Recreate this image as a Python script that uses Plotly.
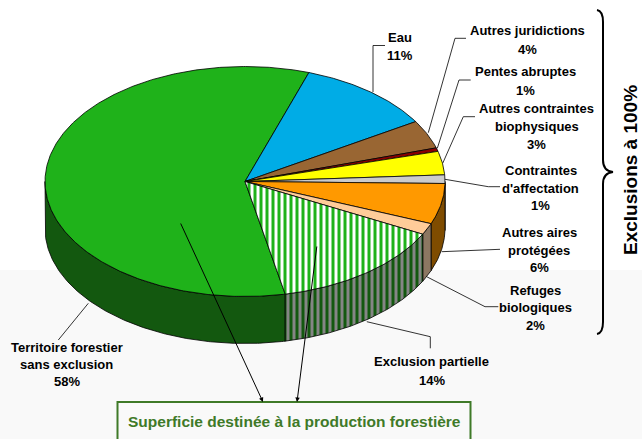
import numpy as np
import plotly.graph_objects as go

# ---------------- data ----------------
categories = [
    "Territoire forestier\nsans exclusion",
    "Eau",
    "Autres juridictions",
    "Pentes abruptes",
    "Autres contraintes\nbiophysiques",
    "Contraintes\nd'affectation",
    "Autres aires\nprotégées",
    "Refuges\nbiologiques",
    "Exclusion partielle",
]
values = [58.4, 11.1, 4.0, 0.5, 3.3, 1.2, 5.7, 1.6, 14.2]
box_text = "Superficie destinée à la production forestière"
brace_text = "Exclusions à 100%"

# ---------------- styles / layout constants ----------------
top_colors = ["#1fb21a", "#00ace6", "#996633", "#8b0000", "#ffff00", "#cccccc",
              "#ff9900", "#ffcc99", "#1fb21a"]
side_colors = ["#13580f", "#00567a", "#4d3319", "#460000", "#7f7f00", "#666666",
               "#7f4c00", "#8c7762", "#13580f"]
striped = [False] * 8 + [True]

CX, CY, RX, RY, DEPTH = 245.0, 181.5, 200.0, 115.0, 47.0
START = 168.4  # degrees clockwise from top where first slice begins
W, H = 642, 439

# label positions: x, y of first line, line spacing
label_pos = [
    (66.7, 347.3, 17.2),
    (400.0, 37.7, 17.5),
    (527.0, 30.7, 18.6),
    (525.0, 71.7, 18.3),
    (536.7, 108.3, 18.3),
    (540.7, 170.7, 17.5),
    (539.3, 232.7, 17.5),
    (535.0, 290.7, 17.2),
    (431.7, 361.7, 18.3),
]
leaders = [
    [(88.3, 303.3), (58.3, 340.0)],
    [(373.0, 92.0), (373.0, 45.5), (385.0, 45.5)],
    [(428.3, 132.7), (455.0, 38.3), (466.0, 38.3)],
    [(437.3, 148.3), (459.0, 80.0), (470.7, 80.0)],
    [(442.7, 163.3), (463.3, 116.7), (475.0, 116.7)],
    [(445.0, 179.3), (488.3, 186.7), (500.0, 186.7)],
    [(441.7, 251.7), (491.7, 249.3), (500.0, 249.3)],
    [(426.7, 276.7), (485.0, 306.7), (498.3, 306.7)],
    [(366.8, 321.7), (430.3, 336.7), (430.3, 348.3)],
]

FONT = "Liberation Sans, Arial, sans-serif"


def pt(a_deg, dy=0.0):
    a = np.radians(a_deg)
    return CX + RX * np.sin(a), CY - RY * np.cos(a) + dy


def arc(a0, a1, dy=0.0):
    n = max(2, int(abs(a1 - a0) / 0.5) + 1)
    a = np.linspace(a0, a1, n)
    x, y = pt(a, dy)
    return list(x), list(y)


fig = go.Figure()

total = sum(values)
angles = []
acc = START
for v in values:
    span = v / total * 360.0
    angles.append((acc, acc + span))
    acc += span

# --- side walls (front half: 90..270 deg) ---
for i, (a0, a1) in enumerate(angles):
    for k in (-360.0, 0.0, 360.0):
        s0, s1 = max(a0 + k, 90.0), min(a1 + k, 270.0)
        if s1 <= s0:
            continue
        xt, yt = arc(s0, s1)
        xb, yb = arc(s1, s0, DEPTH)
        xs = xt + xb + [xt[0]]
        ys = yt + yb + [yt[0]]
        kw = {}
        if striped[i]:
            kw["fillpattern"] = dict(shape="|", fgcolor=side_colors[i], bgcolor="#858585",
                                     fgopacity=1, size=6, solidity=0.5)
        fig.add_trace(go.Scatter(x=xs, y=ys, mode="lines", fill="toself",
                                 fillcolor=side_colors[i],
                                 line=dict(color="black", width=0.8),
                                 hoverinfo="skip", **kw))

# --- top faces ---
for i, (a0, a1) in enumerate(angles):
    xa, ya = arc(a0, a1)
    xs = [CX] + xa + [CX]
    ys = [CY] + ya + [CY]
    kw = {}
    if striped[i]:
        kw["fillpattern"] = dict(shape="|", fgcolor=top_colors[i], bgcolor="white",
                                 fgopacity=1, size=6, solidity=0.5)
        fill = "white"
    else:
        fill = top_colors[i]
    fig.add_trace(go.Scatter(x=xs, y=ys, mode="lines", fill="toself", fillcolor=fill,
                             line=dict(color="black", width=0.8),
                             hoverinfo="skip", **kw))

# --- leader lines ---
for poly in leaders:
    fig.add_trace(go.Scatter(x=[p[0] for p in poly], y=[p[1] for p in poly], mode="lines",
                             line=dict(color="black", width=0.8), hoverinfo="skip"))

annotations = []
for i, cat in enumerate(categories):
    lines = cat.split("\n") + [f"{int(values[i] + 0.5)}%"]
    x, y0, dy = label_pos[i]
    for j, t in enumerate(lines):
        annotations.append(dict(x=x, y=y0 + j * dy, xref="x", yref="y", text=t,
                                showarrow=False, xanchor="center", yanchor="middle",
                                font=dict(family=FONT, size=13, color="black", weight="bold")))

# arrows to the box
for head, tail in [((263.0, 402.0), (180.0, 222.0)), ((297.0, 402.0), (317.0, 245.0))]:
    annotations.append(dict(x=head[0], y=head[1], ax=tail[0], ay=tail[1], xref="x", yref="y",
                            axref="x", ayref="y", text="", showarrow=True, arrowhead=2,
                            arrowsize=0.9, arrowwidth=1, arrowcolor="black", standoff=0))

annotations.append(dict(x=294.0, y=421.5, xref="x", yref="y", text=box_text, showarrow=False,
                        font=dict(family=FONT, size=15.5, color="#3f7a28", weight="bold")))
annotations.append(dict(x=630.0, y=170.0, xref="x", yref="y", text=brace_text, showarrow=False,
                        textangle=-90,
                        font=dict(family=FONT, size=19, color="black", weight="bold")))

shapes = [
    dict(type="rect", xref="x", yref="y", x0=0, x1=W, y0=270, y1=H + 5,
         fillcolor="#f9f9f9", line=dict(width=0), layer="below"),
    dict(type="rect", xref="x", yref="y", x0=117.5, x1=470.5, y0=402, y1=H + 10,
         fillcolor="rgba(0,0,0,0)", line=dict(color="#3f7a28", width=2), layer="above"),
    dict(type="path", xref="x", yref="y",
         path="M 597,10 Q 603,11 603,22 L 603,160 Q 603,171 613,172 "
              "Q 603,173 603,184 L 603,322 Q 603,333 597,334",
         line=dict(color="black", width=2)),
]

fig.update_layout(
    width=W, height=H, margin=dict(l=0, r=0, t=0, b=0),
    paper_bgcolor="white", plot_bgcolor="white", showlegend=False,
    xaxis=dict(range=[0, W], visible=False, fixedrange=True),
    yaxis=dict(range=[H, 0], visible=False, fixedrange=True),
    annotations=annotations, shapes=shapes,
)

fig.write_html("out.html", config={"displayModeBar": False},
               post_script="document.body.style.margin='0';document.body.style.overflow='hidden';")
